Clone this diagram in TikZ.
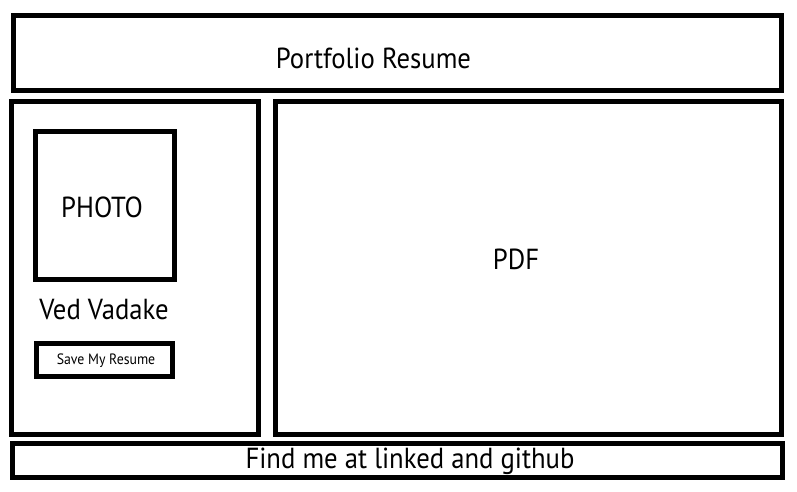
\documentclass[tikz,border=0pt]{standalone}
\usepackage{fontspec}
\setmainfont[FakeStretch=0.92]{PT Sans}
\begin{document}
\begin{tikzpicture}[x=1pt,y=-1pt,
  frame/.style={draw=black,line width=5pt,fill=white,inner sep=0pt},
  label/.style={inner sep=0pt,text=black}]
\useasboundingbox (0,0) rectangle (797,492);
% page regions
\node[frame,minimum width=767.7pt,minimum height=75pt] (header) at (397.65,53) {};
\node[frame,minimum width=246.8pt,minimum height=332pt] (sidebar) at (134.9,268) {};
\node[frame,minimum width=506pt,minimum height=332pt] (viewer) at (528,268) {};
\node[frame,minimum width=770pt,minimum height=33.3pt] (footer) at (397.5,460.35) {};
% sidebar contents
\node[frame,minimum width=139pt,minimum height=147.5pt] (photo) at (105,205.25) {};
\node[frame,minimum width=136pt,minimum height=33pt] (button) at (104.5,359.5) {};
% texts
\node[label,font=\fontsize{29}{30}\selectfont] (title) at (373.5,58) {Portfolio Resume};
\node[label,font=\fontsize{29}{30}\selectfont] (phototext) at (102,207) {PHOTO};
\node[label,font=\fontsize{29}{30}\selectfont] (pdftext) at (516,259) {PDF};
\node[label,font=\fontsize{29}{30}\selectfont] (name) at (104,310) {Ved Vadake};
\node[label,font=\fontsize{15}{16}\selectfont] (buttontext) at (106,361) {Save My Resume};
\node[label,font=\fontsize{29}{30}\selectfont] (contact) at (410,461) {Find me at linked and github};
\end{tikzpicture}
\end{document}
